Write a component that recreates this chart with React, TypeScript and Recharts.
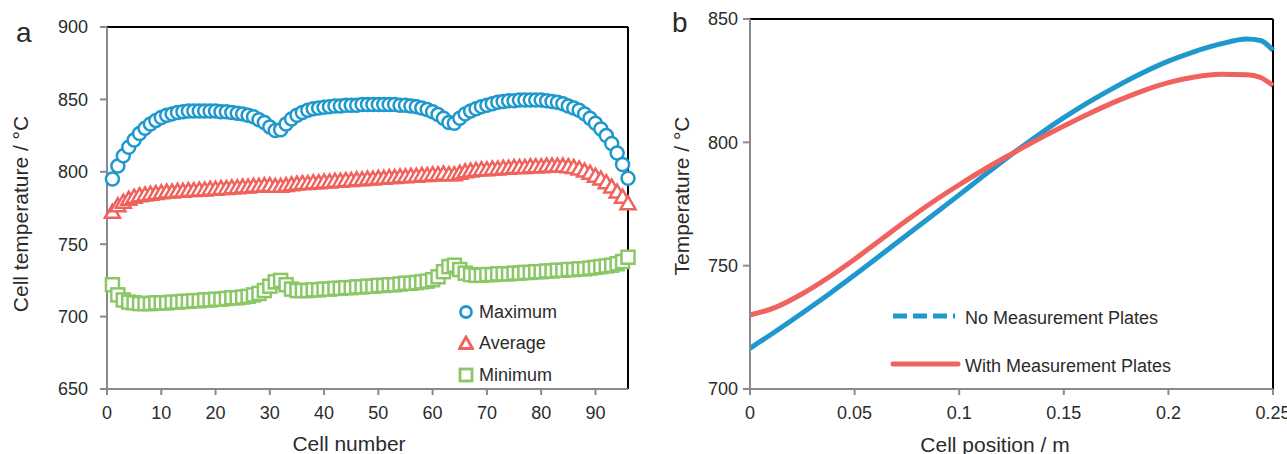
import React from 'react';
import { LineChart, Line, XAxis, YAxis, ReferenceLine } from 'recharts';

const BLUE = '#1e98cd';
const RED = '#f0625d';
const GREEN = '#8cc767';
const AXIS_GREY = '#8a8a8a';
const TEXT = '#2b2b2b';
const FONT = '"Liberation Sans", Arial, Helvetica, sans-serif';

// ---- panel a: cell temperatures per cell ----
const cellNumbers = Array.from({ length: 96 }, (_, i) => i + 1);

const maxTemp = [
  795, 804, 811, 817, 822, 826.5, 830, 833, 835.5, 837.5,
  839, 840, 841, 841.5, 842, 842, 842, 842, 842, 842,
  841.5, 841.5, 841, 840.5, 840, 839, 838, 836, 834, 831,
  828.5, 829, 833, 836.5, 839, 841, 842.5, 843.5, 844, 844.5,
  845, 845.5, 845.5, 846, 846, 846, 846.5, 846.5, 846.5, 846.5,
  846.5, 846.5, 846.5, 846, 846, 845.5, 845, 844, 843, 841.5,
  839.5, 837, 834, 833.5, 837, 840, 842, 843.5, 845, 846,
  847, 848, 848.5, 849, 849, 849.5, 849.5, 849.5, 849.5, 849.5,
  849, 848.5, 848, 847, 845.5, 844, 842.5, 840, 837, 833.5,
  829.5, 825, 819.5, 813, 805, 795.5,
];

const avgTemp = [
  772, 776.5, 779, 781, 782.5, 783.5, 784, 784.5, 785, 785.5,
  786, 786, 786.5, 786.5, 787, 787, 787.5, 787.5, 788, 788,
  788.5, 788.5, 789, 789, 789.5, 789.5, 790, 790, 790.5, 790.5,
  790, 790, 790.5, 791, 791.5, 792, 792, 792.5, 792.5, 793,
  793, 793.5, 793.5, 794, 794, 794.5, 794.5, 795, 795, 795.5,
  795.5, 796, 796, 796.5, 796.5, 797, 797, 797.5, 797.5, 798,
  798, 798.5, 798, 798, 799, 800, 800.5, 801, 801.5, 801.5,
  802, 802, 802.5, 802.5, 803, 803, 803, 803.5, 803.5, 803.5,
  804, 804, 804, 804, 803.5, 803, 802, 800.5, 799, 797,
  795, 792.5, 789.5, 786, 782.5, 778,
];

const minTemp = [
  722, 715, 711.5, 710, 709.5, 709, 709, 709, 709.5, 709.5,
  709.5, 710, 710, 710.5, 710.5, 711, 711, 711.5, 711.5, 712,
  712, 712.5, 713, 713, 713.5, 714, 715, 716, 718, 721,
  724, 725, 722, 719, 718, 718, 718, 718.5, 718.5, 719,
  719, 719.5, 719.5, 720, 720, 720.5, 720.5, 721, 721, 721.5,
  721.5, 722, 722, 722.5, 723, 723, 723.5, 724, 724.5, 725.5,
  727.5, 731, 734.5, 735.5, 732.5, 730, 729, 728.5, 728.5, 729,
  729, 729.5, 729.5, 729.5, 730, 730, 730.5, 730.5, 731, 731,
  731.5, 731.5, 732, 732, 732.5, 732.5, 733, 733, 733.5, 734,
  734.5, 735, 735.5, 736.5, 738, 741,
];

const cellTicks = [0, 10, 20, 30, 40, 50, 60, 70, 80, 90];
const tempTicksA = [650, 700, 750, 800, 850, 900];

// ---- panel b: temperature along the cell ----
const cellPosition = [
  0, 0.0125, 0.025, 0.0375, 0.05, 0.0625, 0.075, 0.0875, 0.1, 0.1125, 0.125,
  0.1375, 0.15, 0.1625, 0.175, 0.1875, 0.2, 0.2125, 0.225, 0.2375, 0.244, 0.25,
];
const noPlates = [
  716.5, 723.5, 730.8, 738.3, 746.2, 754.3, 762.4, 770.5, 778.7, 787, 795.1,
  802.8, 810, 816.6, 822.6, 828.1, 832.9, 836.8, 839.9, 841.9, 841.3, 837.3,
];
const withPlates = [
  730, 733.2, 738.6, 745.2, 752.6, 760.5, 768.4, 775.9, 782.8, 789.3, 795.3,
  801.1, 806.6, 811.8, 816.6, 820.8, 824.2, 826.5, 827.6, 827.4, 826.3, 823,
];

const posTicks = [0, 0.05, 0.1, 0.15, 0.2, 0.25];
const tempTicksB = [700, 750, 800, 850];

const dataA = cellNumbers.map((cell, i) => ({
  cell,
  max: maxTemp[i],
  avg: avgTemp[i],
  min: minTemp[i],
}));

const dataB = cellPosition.map((pos, i) => ({
  pos,
  noPlates: noPlates[i],
  withPlates: withPlates[i],
}));

const CircleDot = (props: any) => {
  const { cx, cy, index } = props;
  return (
    <circle key={`c-${index}`} cx={cx} cy={cy} r={6.5} fill="#fff" stroke={BLUE} strokeWidth={2.5} />
  );
};

const TriangleDot = (props: any) => {
  const { cx, cy, index } = props;
  const d = `M${cx},${cy - 7.5} L${cx + 7.5},${cy + 5.5} L${cx - 7.5},${cy + 5.5} Z`;
  return <path key={`t-${index}`} d={d} fill="#fff" stroke={RED} strokeWidth={2.5} strokeLinejoin="miter" />;
};

const SquareDot = (props: any) => {
  const { cx, cy, index } = props;
  return (
    <rect key={`s-${index}`} x={cx - 6.5} y={cy - 6.5} width={13} height={13} fill="#fff" stroke={GREEN} strokeWidth={2.5} />
  );
};

const tickStyle = { fill: TEXT, fontSize: 18 };
const axisLine = { stroke: AXIS_GREY, strokeWidth: 2 };

const abs = (left: number, top: number, extra: React.CSSProperties = {}): React.CSSProperties => ({
  position: 'absolute',
  left,
  top,
  whiteSpace: 'nowrap',
  color: TEXT,
  ...extra,
});

const centered = (left: number, top: number, size: number, rotate = false): React.CSSProperties =>
  abs(left, top, {
    fontSize: size,
    lineHeight: 1,
    transform: `translate(-50%, -50%)${rotate ? ' rotate(-90deg)' : ''}`,
  });

const LegendA = () => {
  const rows = [
    { label: 'Maximum', y: 311.5, marker: <circle cx={8} cy={8} r={5.5} fill="#fff" stroke={BLUE} strokeWidth={2.8} /> },
    { label: 'Average', y: 343, marker: <path d="M8,2 L14.5,13.5 L1.5,13.5 Z" fill="#fff" stroke={RED} strokeWidth={2.8} /> },
    { label: 'Minimum', y: 375, marker: <rect x={2} y={2} width={12} height={12} fill="#fff" stroke={GREEN} strokeWidth={2.8} /> },
  ];
  return (
    <>
      {rows.map((r) => (
        <React.Fragment key={r.label}>
          <svg width={16} height={16} style={{ position: 'absolute', left: 458, top: r.y - 8 }}>
            {r.marker}
          </svg>
          <div style={abs(479, r.y - 10, { fontSize: 18, lineHeight: '20px' })}>{r.label}</div>
        </React.Fragment>
      ))}
    </>
  );
};

const LegendB = () => (
  <>
    <svg width={70} height={12} style={{ position: 'absolute', left: 890, top: 310 }}>
      <line x1={3} y1={6} x2={65} y2={6} stroke={BLUE} strokeWidth={5} strokeDasharray="14 6" />
    </svg>
    <div style={abs(965, 308, { fontSize: 18, lineHeight: '20px' })}>No Measurement Plates</div>
    <svg width={72} height={12} style={{ position: 'absolute', left: 890, top: 358 }}>
      <line x1={3} y1={6} x2={68} y2={6} stroke={RED} strokeWidth={5} strokeLinecap="round" />
    </svg>
    <div style={abs(965, 356, { fontSize: 18, lineHeight: '20px' })}>With Measurement Plates</div>
  </>
);

export default function App() {
  return (
    <div
      style={{
        position: 'absolute',
        left: 0,
        top: 0,
        width: 1287,
        height: 454,
        background: '#fff',
        fontFamily: FONT,
        overflow: 'hidden',
      }}
    >
      {/* panel a */}
      <div style={{ position: 'absolute', left: 0, top: 0 }}>
        <LineChart width={650} height={454} data={dataA} margin={{ top: 27, right: 22, bottom: 15, left: 0 }}>
          <XAxis
            dataKey="cell"
            type="number"
            domain={[0, 96]}
            ticks={cellTicks}
            interval={0}
            height={50}
            tickSize={6}
            tickMargin={11}
            tick={tickStyle}
            axisLine={axisLine}
            tickLine={axisLine}
          />
          <YAxis
            type="number"
            domain={[650, 900]}
            ticks={tempTicksA}
            interval={0}
            width={107}
            tickSize={7}
            tickMargin={12}
            tick={tickStyle}
            axisLine={axisLine}
            tickLine={axisLine}
          />
          <ReferenceLine y={900} stroke="#000" strokeWidth={2} />
          <ReferenceLine x={96} stroke="#000" strokeWidth={2} />
          <ReferenceLine segment={[{ x: 0, y: 900 }, { x: 0, y: 689 }]} stroke="#000" strokeWidth={2} />
          <Line dataKey="min" stroke="none" dot={SquareDot} activeDot={false} isAnimationActive={false} />
          <Line dataKey="avg" stroke="none" dot={TriangleDot} activeDot={false} isAnimationActive={false} />
          <Line dataKey="max" stroke="none" dot={CircleDot} activeDot={false} isAnimationActive={false} />
        </LineChart>
      </div>

      {/* panel b */}
      <div style={{ position: 'absolute', left: 650, top: 0 }}>
        <LineChart width={637} height={454} data={dataB} margin={{ top: 19, right: 14, bottom: 15, left: 0 }}>
          <XAxis
            dataKey="pos"
            type="number"
            domain={[0, 0.25]}
            ticks={posTicks}
            interval={0}
            height={50}
            tickSize={6}
            tickMargin={11}
            tick={tickStyle}
            axisLine={axisLine}
            tickLine={axisLine}
          />
          <YAxis
            type="number"
            domain={[700, 850]}
            ticks={tempTicksB}
            interval={0}
            width={100}
            tickSize={7}
            tickMargin={5}
            tick={tickStyle}
            axisLine={axisLine}
            tickLine={axisLine}
          />
          <ReferenceLine y={850} stroke="#000" strokeWidth={2} />
          <ReferenceLine x={0.25} stroke="#000" strokeWidth={2} />
          <ReferenceLine segment={[{ x: 0, y: 850 }, { x: 0, y: 722 }]} stroke="#000" strokeWidth={2} />
          <Line
            type="monotone"
            dataKey="noPlates"
            stroke={BLUE}
            strokeWidth={5}
            dot={false}
            activeDot={false}
            isAnimationActive={false}
          />
          <Line
            type="monotone"
            dataKey="withPlates"
            stroke={RED}
            strokeWidth={5}
            dot={false}
            activeDot={false}
            isAnimationActive={false}
          />
        </LineChart>
      </div>

      {/* panel letters and axis titles */}
      <div style={abs(16, 19, { fontSize: 28, lineHeight: '28px' })}>a</div>
      <div style={abs(672, 9, { fontSize: 28, lineHeight: '28px' })}>b</div>
      <div style={centered(20, 214, 21, true)}>Cell temperature / °C</div>
      <div style={centered(349, 443, 21)}>Cell number</div>
      <div style={centered(681, 196, 21, true)}>Temperature / °C</div>
      <div style={centered(995, 444, 21)}>Cell position / m</div>

      <LegendA />
      <LegendB />
    </div>
  );
}
